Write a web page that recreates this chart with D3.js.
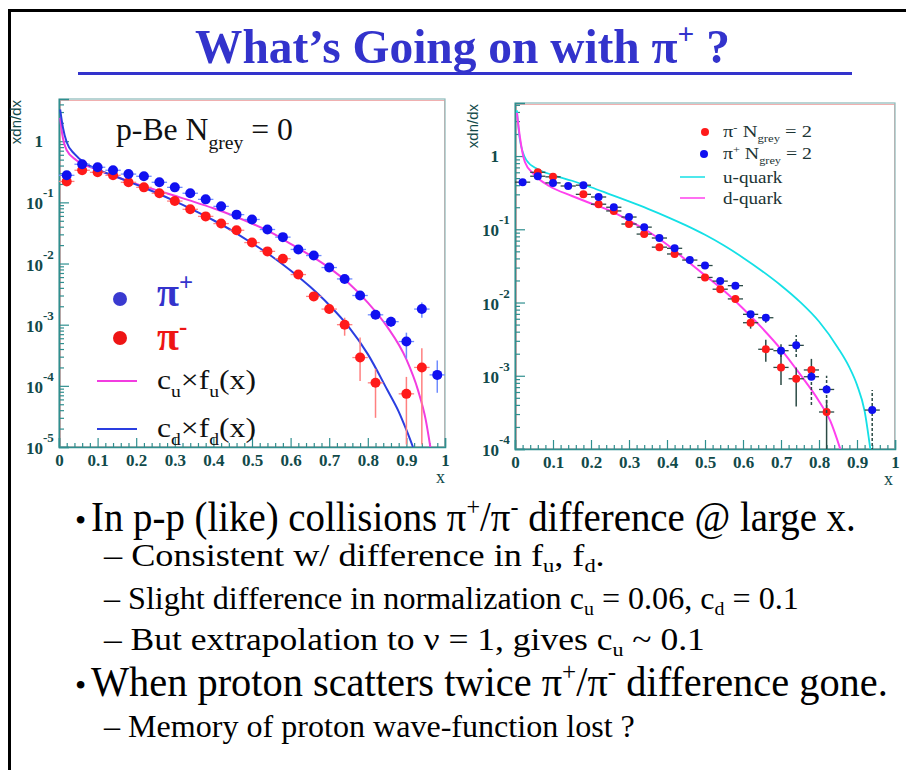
<!DOCTYPE html>
<html><head><meta charset="utf-8">
<script src="https://cdn.jsdelivr.net/npm/d3@7"></script>
<style>
html,body{margin:0;padding:0;background:#fff;}
svg{display:block;}
</style></head><body>
<script>
// ---------- data ----------
const xTickValues = [0,0.1,0.2,0.3,0.4,0.5,0.6,0.7,0.8,0.9,1];
const xTickLabels = ["0","0.1","0.2","0.3","0.4","0.5","0.6","0.7","0.8","0.9","1"];
const leftDecades = [-5,-4,-3,-2,-1,0];
const rightDecades = [-4,-3,-2,-1,0];
const binHalfWidth = 0.02;

// p-Be, N_grey = 0 : pi+
const lPlusX  = [0.02,0.06,0.10,0.14,0.18,0.22,0.26,0.30,0.34,0.38,0.42,0.46,0.50,0.54,0.58,0.62,0.66,0.70,0.74,0.78,0.82,0.86,0.90,0.94,0.98];
const lPlusY  = [0.277,0.42,0.375,0.335,0.29,0.267,0.213,0.176,0.141,0.112,0.086,0.063,0.0525,0.036,0.027,0.017,0.0135,0.0086,0.0056,0.0030,0.00145,0.00112,0.00053,0.0018,0.000151];
const lPlusLo = [null,null,null,null,null,null,null,null,null,null,null,null,null,null,null,null,null,0.0077,0.0049,0.0026,0.00125,0.00092,0.00028,0.0013,0.000077];
const lPlusHi = [null,null,null,null,null,null,null,null,null,null,null,null,null,null,null,null,null,0.0095,0.0064,0.0035,0.00170,0.00135,0.00074,0.0023,0.00026];

// p-Be, N_grey = 0 : pi-
const lMinusX  = [0.02,0.06,0.10,0.14,0.18,0.22,0.26,0.30,0.34,0.38,0.42,0.46,0.50,0.54,0.58,0.62,0.66,0.70,0.74,0.78,0.82,0.90,0.94];
const lMinusY  = [0.22,0.335,0.31,0.277,0.213,0.176,0.141,0.105,0.077,0.059,0.045,0.035,0.022,0.0158,0.012,0.0066,0.0029,0.0018,0.0010,0.00029,0.000112,0.000074,0.00020];
const lMinusLo = [null,null,null,null,null,null,null,null,null,null,null,null,null,null,null,0.0059,0.0025,0.0015,0.00066,0.00012,0.00003,0.000011,0.000011];
const lMinusHi = [null,null,null,null,null,null,null,null,null,null,null,null,null,null,null,0.0074,0.0034,0.0022,0.0013,0.00062,0.00019,0.00014,0.00041];

// fitted c_u x f_u(x) and c_d x f_d(x)
const cuFuX = [0.003,0.008,0.02,0.045,0.09,0.15,0.2,0.25,0.3,0.35,0.4,0.45,0.5,0.55,0.6,0.65,0.7,0.75,0.8,0.85,0.9,0.93,0.95,0.962];
const cuFuY = [2.4,1.35,0.71,0.49,0.36,0.26,0.2,0.16,0.128,0.102,0.08,0.061,0.045,0.032,0.021,0.0137,0.0085,0.0048,0.0023,0.00093,0.00027,0.000085,0.000028,0.00001];
const cdFdX = [0.003,0.01,0.02,0.04,0.07,0.1,0.15,0.2,0.25,0.3,0.35,0.4,0.45,0.5,0.55,0.6,0.65,0.7,0.75,0.8,0.85,0.88,0.9,0.917];
const cdFdY = [3.3,1.7,0.96,0.62,0.43,0.345,0.26,0.195,0.145,0.105,0.074,0.051,0.034,0.0215,0.0133,0.0077,0.0042,0.0021,0.00093,0.00033,0.000087,0.000038,0.000019,0.00001];

// N_grey = 2 : pi-
const rMinusX  = [0.06,0.10,0.18,0.22,0.26,0.30,0.34,0.38,0.42,0.50,0.54,0.58,0.62,0.66,0.70,0.74,0.78,0.82];
const rMinusY  = [0.60,0.52,0.30,0.22,0.178,0.118,0.086,0.057,0.046,0.022,0.0152,0.0112,0.0053,0.0023,0.0013,0.00091,0.0012,0.00032];
const rMinusLo = [null,null,null,null,null,null,null,null,null,null,null,0.0100,0.0044,0.00155,0.00075,0.00038,0.00088,0.00005];
const rMinusHi = [null,null,null,null,null,null,null,null,null,null,null,0.0126,0.0064,0.0031,0.0022,0.0013,0.0017,0.00047];

// N_grey = 2 : pi+
const rPlusX  = [0.02,0.06,0.10,0.14,0.18,0.22,0.26,0.30,0.34,0.38,0.42,0.46,0.50,0.54,0.58,0.62,0.66,0.70,0.74,0.78,0.82,0.94];
const rPlusY  = [0.44,0.53,0.43,0.39,0.40,0.276,0.20,0.147,0.107,0.076,0.055,0.038,0.032,0.0196,0.017,0.0069,0.0062,0.0022,0.0026,0.00097,0.00065,0.00034];
const rPlusLo = [null,null,null,null,null,null,null,null,null,null,null,null,null,null,null,null,0.0053,0.0018,0.0018,0.0004,0.00031,0.00005];
const rPlusHi = [null,null,null,null,null,null,null,null,null,null,null,null,null,null,null,null,0.0072,0.0027,0.0036,0.0012,0.0010,0.00064];

// quark curves
const uQuarkX = [0.005,0.013,0.03,0.06,0.1,0.15,0.2,0.25,0.3,0.35,0.4,0.45,0.5,0.55,0.6,0.65,0.7,0.75,0.8,0.85,0.88,0.9,0.92,0.935];
const uQuarkY = [4.2,1.65,0.88,0.66,0.55,0.46,0.375,0.30,0.24,0.19,0.148,0.113,0.084,0.060,0.041,0.027,0.0171,0.0102,0.0055,0.0024,0.0013,0.00075,0.00033,0.0001];
const dQuarkX = [0.005,0.013,0.026,0.05,0.09,0.15,0.2,0.25,0.3,0.35,0.4,0.45,0.5,0.55,0.6,0.65,0.7,0.75,0.8,0.83,0.856];
const dQuarkY = [3.9,1.8,0.83,0.56,0.39,0.285,0.225,0.18,0.132,0.094,0.062,0.038,0.0235,0.0145,0.0083,0.0045,0.0023,0.00105,0.00045,0.00024,0.0001];

// slide text
const titleParts = [{t:"What\u2019s Going on with \u03c0"},{t:"+",sup:true},{t:" ?"}];
const bodyLines = [
  {bullet:true, parts:[{t:"In p-p (like) collisions \u03c0"},{t:"+",sup:true},{t:"/\u03c0"},{t:"-",sup:true},{t:" difference @ large x."}]},
  {bullet:false, parts:[{t:"\u2013 Consistent w/ difference in f"},{t:"u",sub:true},{t:", f"},{t:"d",sub:true},{t:"."}]},
  {bullet:false, parts:[{t:"\u2013 Slight difference in normalization c"},{t:"u",sub:true},{t:" = 0.06, c"},{t:"d",sub:true},{t:" = 0.1"}]},
  {bullet:false, parts:[{t:"\u2013 But extrapolation to \u03bd = 1, gives c"},{t:"u",sub:true},{t:" ~ 0.1"}]},
  {bullet:true, parts:[{t:"When proton scatters twice \u03c0"},{t:"+",sup:true},{t:"/\u03c0"},{t:"-",sup:true},{t:" difference gone."}]},
  {bullet:false, parts:[{t:"\u2013 Memory of proton wave-function lost ?"}]}
];

// ---------- drawing ----------
const W = 906, H = 770;
const svg = d3.select("body").append("svg").attr("width", W).attr("height", H);
const SERIF = "'Liberation Serif','Times New Roman',serif";
const SANS = "'Liberation Sans',Arial,sans-serif";
const AXIS = "#2f8f8f", LABEL = "#114a4a";

// rich text: runs of normal / sub / sup text
function rich(g, x, y, parts, size, fill, weight, subDrop) {
  const t = g.append("text").attr("x", x).attr("y", y)
    .attr("font-family", SERIF).attr("font-size", size)
    .attr("font-weight", weight || "normal").attr("fill", fill);
  let shift = 0;
  const drop = subDrop || 0.28;
  parts.forEach(p => {
    const target = p.sup ? -0.38 * size : p.sub ? drop * size : 0;
    t.append("tspan").attr("dy", target - shift)
      .attr("font-size", (p.sup || p.sub) ? size * 0.62 : size)
      .text(p.t);
    shift = target;
  });
  return t;
}
function fitWidth(t, x0, target) {
  const w = t.node().getBBox().width;
  const s = target / w;
  t.attr("transform", `translate(${x0},0) scale(${s},1) translate(${-x0},0)`);
}

// slide border
svg.append("path").attr("d", `M9.5,${H} V10.5 H${W}`)
  .attr("fill", "none").attr("stroke", "#000").attr("stroke-width", 3);

// title
const title = rich(svg, 195, 63, titleParts, 49, "#3333cc", "bold");
fitWidth(title, 195, 535);
svg.append("rect").attr("x", 78).attr("y", 72).attr("width", 774).attr("height", 3).attr("fill", "#3333cc");

// one histogram panel
function panel(cfg) {
  const g = svg.append("g");
  const x = d3.scaleLinear().domain([0, 1]).range([cfg.x0, cfg.x1]);
  const y = d3.scaleLog().domain(cfg.yDomain).range([cfg.y1, cfg.y0]);
  const clipId = "clip" + cfg.id;
  svg.append("clipPath").attr("id", clipId).append("rect")
    .attr("x", cfg.x0).attr("y", cfg.y0).attr("width", cfg.x1 - cfg.x0).attr("height", cfg.y1 - cfg.y0);

  // frame
  g.append("rect").attr("x", cfg.x0 + 1.5).attr("y", cfg.y0 + 1.5)
    .attr("width", cfg.x1 - cfg.x0 - 2).attr("height", cfg.y1 - cfg.y0 - 2)
    .attr("fill", "none").attr("stroke", "#f0b0b0").attr("stroke-width", 1);
  g.append("rect").attr("x", cfg.x0).attr("y", cfg.y0)
    .attr("width", cfg.x1 - cfg.x0).attr("height", cfg.y1 - cfg.y0)
    .attr("fill", "none").attr("stroke", "#8ab8b8").attr("stroke-width", 1.2);

  // x axis (ticks point into the frame)
  const xMinor = d3.range(0, 50).map(i => i * 0.02).filter(v => Math.abs(v * 10 - Math.round(v * 10)) > 1e-6);
  g.append("g").attr("transform", `translate(0,${cfg.y1})`)
    .call(d3.axisBottom(x).tickValues(xMinor).tickSize(-4).tickFormat(""))
    .call(a => a.select(".domain").remove())
    .selectAll("line").attr("stroke", AXIS).attr("stroke-width", 1.2);
  const xa = g.append("g").attr("transform", `translate(0,${cfg.y1})`)
    .call(d3.axisBottom(x).tickValues(xTickValues).tickSize(-9).tickPadding(7)
      .tickFormat((d, i) => xTickLabels[i]));
  xa.select(".domain").attr("stroke", AXIS).attr("stroke-width", 1.6);
  xa.selectAll("line").attr("stroke", AXIS).attr("stroke-width", 1.2);
  xa.selectAll("text").attr("font-family", SERIF).attr("font-size", 17).attr("fill", LABEL)
    .attr("font-weight", "bold").attr("dy", "0.72em");
  g.append("text").attr("x", cfg.xTitleX).attr("y", cfg.xTitleY)
    .attr("font-family", SERIF).attr("font-size", 18).attr("fill", LABEL).text("x");

  // y axis (log)
  const minor = [];
  cfg.decades.forEach(d => { for (let k = 2; k <= 9; k++) { const v = k * Math.pow(10, d); if (v <= cfg.yDomain[1]) minor.push(v); } });
  g.append("g").attr("transform", `translate(${cfg.x0},0)`)
    .call(d3.axisLeft(y).tickValues(minor).tickSize(-5).tickFormat(""))
    .call(a => a.select(".domain").remove())
    .selectAll("line").attr("stroke", AXIS).attr("stroke-width", 1.2);
  const ya = g.append("g").attr("transform", `translate(${cfg.x0},0)`)
    .call(d3.axisLeft(y).tickValues(cfg.decades.map(d => Math.pow(10, d))).tickSize(-10).tickFormat(""));
  ya.select(".domain").attr("stroke", AXIS).attr("stroke-width", 1.6);
  ya.selectAll("line").attr("stroke", AXIS).attr("stroke-width", 1.2);
  cfg.decades.forEach(d => {
    const ty = y(Math.pow(10, d));
    if (d === 0) {
      g.append("text").attr("x", cfg.x0 - 16).attr("y", ty + 6).attr("text-anchor", "end")
        .attr("font-family", SERIF).attr("font-size", 17).attr("font-weight", "bold").attr("fill", LABEL).text("1");
    } else {
      g.append("text").attr("x", cfg.x0 - 16).attr("y", ty + 7).attr("text-anchor", "end")
        .attr("font-family", SERIF).attr("font-size", 17).attr("font-weight", "bold").attr("fill", LABEL).text("10");
      g.append("text").attr("x", cfg.x0 - 16).attr("y", ty - 5)
        .attr("font-family", SERIF).attr("font-size", 13).attr("font-weight", "bold").attr("fill", LABEL).text(String(d));
    }
  });
  g.append("text").attr("transform", `translate(${cfg.yTitleX},${cfg.y0 + 1}) rotate(-90)`)
    .attr("text-anchor", "end").attr("font-family", SANS).attr("font-size", 15)
    .attr("fill", LABEL).text("xdn/dx");

  const plot = g.append("g").attr("clip-path", `url(#${clipId})`);
  const line = d3.line().x(d => x(d[0])).y(d => y(Math.max(d[1], 1e-7))).curve(d3.curveMonotoneX);
  cfg.curves.forEach(c => {
    plot.append("path").datum(d3.zip(c.x, c.y)).attr("d", line)
      .attr("fill", "none").attr("stroke", c.color).attr("stroke-width", c.width || 2);
  });
  cfg.series.forEach(s => {
    const pts = s.x.map((v, i) => ({x: v, y: s.y[i], lo: s.lo[i], hi: s.hi[i]}));
    const sg = plot.append("g");
    sg.selectAll(".hb").data(pts).join("line")
      .attr("x1", d => x(d.x - binHalfWidth)).attr("x2", d => x(d.x + binHalfWidth))
      .attr("y1", d => y(d.y)).attr("y2", d => y(d.y))
      .attr("stroke", s.barColor).attr("stroke-width", 1.3);
    sg.selectAll(".vb").data(pts.filter(d => d.lo !== null)).join("line")
      .attr("x1", d => x(d.x)).attr("x2", d => x(d.x))
      .attr("y1", d => y(Math.max(d.lo, 1e-7))).attr("y2", d => y(d.hi))
      .attr("stroke", s.barColor).attr("stroke-width", 1.5)
      .attr("stroke-dasharray", s.dash || null);
    sg.selectAll("circle").data(pts).join("circle")
      .attr("cx", d => x(d.x)).attr("cy", d => y(d.y)).attr("r", s.r)
      .attr("fill", s.color);
  });
  return {g, x, y};
}

// left panel: p-Be, N_grey = 0
const L = panel({
  id: "L", x0: 59, x1: 445, y0: 99, y1: 447, yDomain: [1e-5, 4.9], decades: leftDecades,
  xTitleX: 436, xTitleY: 483, yTitleX: 21,
  curves: [
    {x: cuFuX, y: cuFuY, color: "#f23ce0"},
    {x: cdFdX, y: cdFdY, color: "#2a3ee0"}
  ],
  series: [
    {x: lMinusX, y: lMinusY, lo: lMinusLo, hi: lMinusHi, color: "#ff1a1a", barColor: "#ff8080", r: 5},
    {x: lPlusX, y: lPlusY, lo: lPlusLo, hi: lPlusHi, color: "#1010f0", barColor: "#6f8cff", r: 5}
  ]
});

// right panel: N_grey = 2
const R = panel({
  id: "R", x0: 515, x1: 895, y0: 103, y1: 449, yDomain: [1e-4, 5.3], decades: rightDecades,
  xTitleX: 884, xTitleY: 485, yTitleX: 478,
  curves: [
    {x: uQuarkX, y: uQuarkY, color: "#14e0e6", width: 1.8},
    {x: dQuarkX, y: dQuarkY, color: "#ff40ee", width: 2}
  ],
  series: [
    {x: rMinusX, y: rMinusY, lo: rMinusLo, hi: rMinusHi, color: "#ff1a1a", barColor: "#2b4a45", r: 4},
    {x: rPlusX, y: rPlusY, lo: rPlusLo, hi: rPlusHi, color: "#1010f0", barColor: "#2b4a45", r: 4, dash: "3,2"}
  ]
});

// left panel caption and legend
const cap = rich(svg, 116, 140, [{t:"p-Be N"},{t:"grey",sub:true},{t:" = 0"}], 31, "#111");
fitWidth(cap, 116, 177);
svg.append("circle").attr("cx", 120).attr("cy", 299).attr("r", 7).attr("fill", "#3a3ad0");
svg.append("circle").attr("cx", 120).attr("cy", 338).attr("r", 7).attr("fill", "#ee1515");
rich(svg, 157, 306, [{t:"\u03c0"},{t:"+",sup:true}], 40, "#3333cc", "bold");
rich(svg, 157, 350, [{t:"\u03c0"},{t:"-",sup:true}], 40, "#ee1515", "bold");
svg.append("line").attr("x1", 97).attr("x2", 137).attr("y1", 381).attr("y2", 381).attr("stroke", "#f23ce0").attr("stroke-width", 2);
svg.append("line").attr("x1", 97).attr("x2", 137).attr("y1", 429).attr("y2", 429).attr("stroke", "#2a3ee0").attr("stroke-width", 2);
const lg1 = rich(svg, 157, 389, [{t:"c"},{t:"u",sub:true},{t:"\u00d7f"},{t:"u",sub:true},{t:"(x)"}], 28, "#111");
fitWidth(lg1, 157, 99);
const lg2 = rich(svg, 157, 437, [{t:"c"},{t:"d",sub:true},{t:"\u00d7f"},{t:"d",sub:true},{t:"(x)"}], 28, "#111");
fitWidth(lg2, 157, 99);

// right panel legend
svg.append("circle").attr("cx", 705).attr("cy", 132).attr("r", 4).attr("fill", "#ff1a1a");
svg.append("circle").attr("cx", 704).attr("cy", 154).attr("r", 4).attr("fill", "#1010f0");
svg.append("line").attr("x1", 680).attr("x2", 705).attr("y1", 177).attr("y2", 177).attr("stroke", "#14e0e6").attr("stroke-width", 1.5);
svg.append("line").attr("x1", 680).attr("x2", 705).attr("y1", 198).attr("y2", 198).attr("stroke", "#ff40ee").attr("stroke-width", 1.5);
const LG = "#1c3434";
const rl1 = rich(svg, 723, 137, [{t:"\u03c0"},{t:"-",sup:true},{t:" N"},{t:"grey",sub:true},{t:" = 2"}], 17, LG);
fitWidth(rl1, 723, 89);
const rl2 = rich(svg, 723, 159, [{t:"\u03c0"},{t:"+",sup:true},{t:" N"},{t:"grey",sub:true},{t:" = 2"}], 17, LG);
fitWidth(rl2, 723, 89);
const rl3 = svg.append("text").attr("x", 723).attr("y", 183).attr("font-family", SERIF).attr("font-size", 17).attr("fill", LG).text("u-quark");
fitWidth(rl3, 723, 60);
const rl4 = svg.append("text").attr("x", 723).attr("y", 204).attr("font-family", SERIF).attr("font-size", 17).attr("fill", LG).text("d-quark");
fitWidth(rl4, 723, 60);

// bullet text
const lineY = [531, 566, 609, 650, 696, 737];
const lineEnd = [856, 606, 800, 706, 888, 636];
bodyLines.forEach((ln, i) => {
  const size = ln.bullet ? 42 : 32;
  const x0 = ln.bullet ? 91 : 104;
  if (ln.bullet) {
    svg.append("text").attr("x", 75).attr("y", lineY[i]).attr("font-family", SERIF)
      .attr("font-size", 32).attr("fill", "#000").text("\u2022");
  }
  const t = rich(svg, x0, lineY[i], ln.parts, size, "#000", "normal", 0.2);
  fitWidth(t, x0, lineEnd[i] - x0);
});
</script>
</body></html>
